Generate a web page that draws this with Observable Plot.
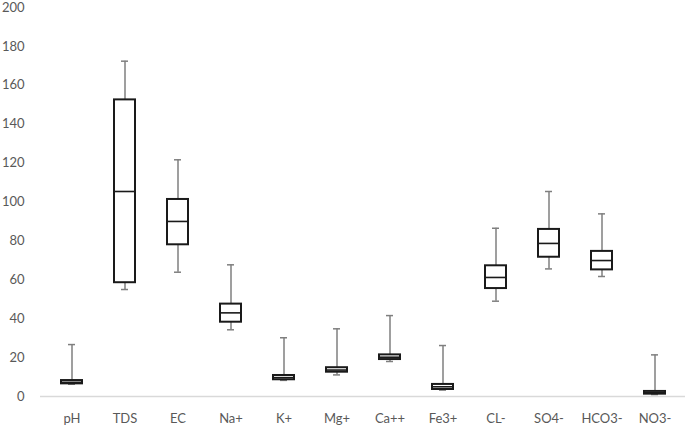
<!DOCTYPE html>
<html>
<head>
<meta charset="utf-8">
<script src="https://cdn.jsdelivr.net/npm/d3@7"></script>
<script src="https://cdn.jsdelivr.net/npm/@observablehq/plot@0.6"></script>
<style>
  html, body { margin: 0; padding: 0; background: #fff; }
  #chart svg { display: block; }
</style>
</head>
<body>
<div id="chart"></div>
<script>
const categories = ["pH", "TDS", "EC", "Na+", "K+", "Mg+", "Ca++", "Fe3+", "CL-", "SO4-", "HCO3-", "NO3-"];
const whiskerLow  = [6.3, 55.0, 63.9, 34.3, 8.3, 11.1, 18.0, 3.3, 49.0, 65.6, 61.7, 1.0];
const q1          = [6.5, 58.5, 78.0, 38.2, 8.6, 12.5, 19.0, 3.6, 55.5, 71.6, 65.1, 1.2];
const median      = [7.3, 105.4, 90.0, 43.0, 9.7, 13.6, 20.2, 5.0, 61.2, 78.7, 69.9, 1.9];
const q3          = [8.2, 152.5, 101.3, 47.5, 10.8, 14.8, 21.4, 6.2, 67.2, 85.9, 74.6, 2.6];
const whiskerHigh = [26.7, 172.4, 121.7, 67.7, 30.2, 34.8, 41.6, 26.2, 86.5, 105.4, 93.9, 21.4];
const yTicks = [0, 20, 40, 60, 80, 100, 120, 140, 160, 180, 200];

const data = categories.map((c, i) => ({
  cat: c, lo: whiskerLow[i], q1: q1[i], med: median[i], q3: q3[i], hi: whiskerHigh[i]
}));

const chart = Plot.plot({
  width: 685,
  height: 426,
  marginLeft: 40,
  marginRight: 0,
  marginTop: 7,
  marginBottom: 30,
  style: { fontFamily: "Lato, 'Open Sans', sans-serif", fontSize: "13px", color: "#595959", background: "#fff" },
  x: { domain: categories, padding: 0, label: null, tickSize: 0, tickPadding: 17 },
  y: { domain: [0, 200], ticks: yTicks, label: null, tickSize: 0, tickPadding: 16 },
  marks: [
    Plot.ruleY([0], { stroke: "#d9d9d9", strokeWidth: 1.5 }),
    Plot.ruleX(data, { x: "cat", y1: "lo", y2: "hi", stroke: "#7f7f7f", strokeWidth: 1.5 }),
    Plot.tickY(data, { x: "cat", y: "hi", stroke: "#7f7f7f", strokeWidth: 1.5, insetLeft: 23, insetRight: 23 }),
    Plot.tickY(data, { x: "cat", y: "lo", stroke: "#7f7f7f", strokeWidth: 1.5, insetLeft: 23, insetRight: 23 }),
    Plot.barY(data, { x: "cat", y1: "q1", y2: "q3", fill: "#fff", stroke: "#1a1a1a", strokeWidth: 2, insetLeft: 16, insetRight: 16 }),
    Plot.tickY(data, { x: "cat", y: "med", stroke: "#1a1a1a", strokeWidth: 1.6, insetLeft: 16, insetRight: 16 })
  ]
});
document.getElementById("chart").appendChild(chart);
</script>
</body>
</html>
